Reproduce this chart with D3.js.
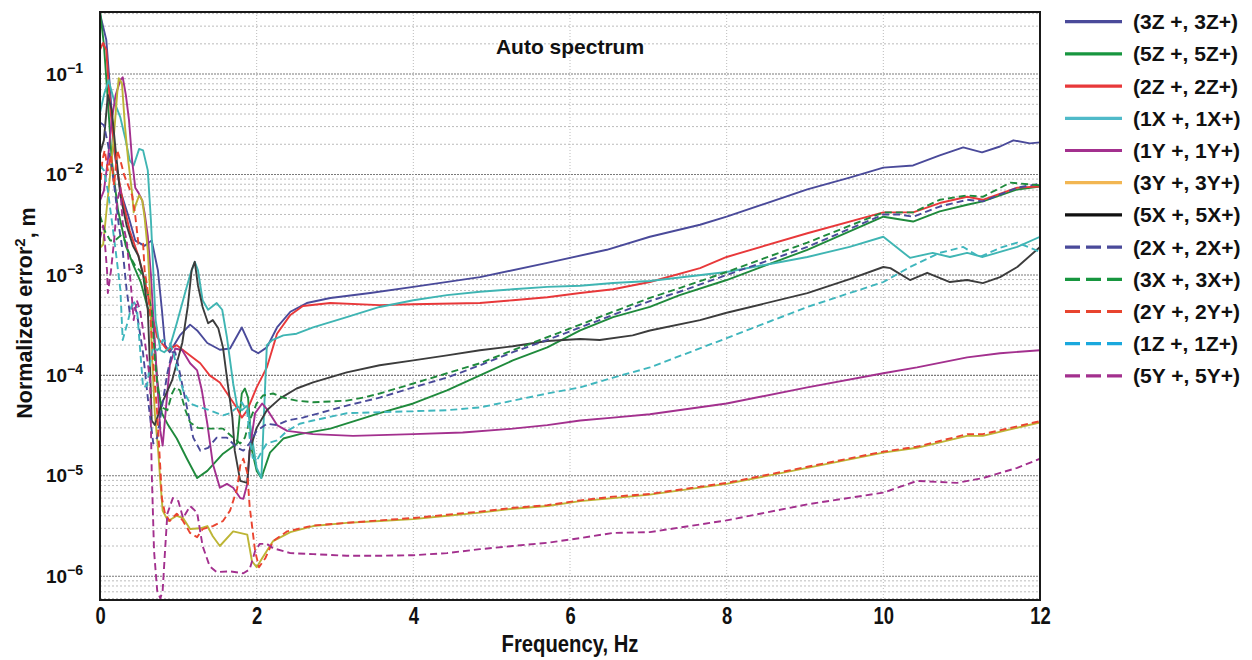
<!DOCTYPE html>
<html><head><meta charset="utf-8">
<script src="https://cdn.jsdelivr.net/npm/d3@7"></script>
<style>body{margin:0;background:#fff}svg{display:block}</style>
</head><body>
<svg id="chart" width="1252" height="660"></svg>
<script>
// ---------- data (frequency in Hz, normalized error^2 in m) ----------
const seriesNames = ["(3Z +, 3Z+)","(5Z +, 5Z+)","(2Z +, 2Z+)","(1X +, 1X+)","(1Y +, 1Y+)","(3Y +, 3Y+)",
  "(5X +, 5X+)","(2X +, 2X+)","(3X +, 3X+)","(2Y +, 2Y+)","(1Z +, 1Z+)","(5Y +, 5Y+)"];

const f3Z = [0,0.08,0.13,0.18,0.26,0.36,0.45,0.57,0.66,0.74,0.79,0.83,0.89,1.02,1.15,1.24,1.37,1.53,1.66,1.81,1.94,2.02,2.13,2.26,2.43,2.64,2.94,3.45,4.0,4.85,5.71,6.47,7.02,7.66,8.0,9.03,9.57,10.0,10.38,10.72,11.02,11.26,11.49,11.66,11.87,12.0];
const v3Z = [0.4,0.22,0.069,0.0174,6.9e-3,3.9e-3,2.2e-3,1.95e-3,2.2e-3,1.1e-3,4.5e-4,2.0e-4,1.7e-4,2.5e-4,3.2e-4,2.8e-4,2.1e-4,1.8e-4,1.85e-4,3.0e-4,1.8e-4,1.66e-4,1.9e-4,3.0e-4,4.3e-4,5.25e-4,5.9e-4,6.6e-4,7.6e-4,9.5e-4,1.32e-3,1.78e-3,2.4e-3,3.16e-3,3.8e-3,7.1e-3,9.3e-3,1.17e-2,1.23e-2,1.55e-2,1.86e-2,1.66e-2,1.9e-2,2.19e-2,2.04e-2,2.09e-2];

const f5Z = [0,0.05,0.10,0.15,0.23,0.33,0.43,0.52,0.60,0.68,0.73,0.79,0.87,0.98,1.11,1.24,1.37,1.57,1.75,1.81,1.85,1.89,1.94,2.00,2.06,2.17,2.34,2.55,2.94,3.57,4.0,4.43,4.85,5.27,5.71,6.13,6.55,7.02,7.40,8.0,9.03,10.0,10.38,10.72,11.07,11.27,11.71,12.0];
const v5Z = [0.43,0.195,0.055,0.0138,4.4e-3,1.95e-3,1.23e-3,8.5e-4,5.0e-4,3.2e-4,8.9e-5,4.2e-5,3.2e-5,2.35e-5,1.48e-5,9.5e-6,1.12e-5,1.66e-5,2.1e-5,6.6e-5,7.4e-5,6.0e-5,1.78e-5,1.12e-5,9.5e-6,1.7e-5,2.35e-5,2.6e-5,2.95e-5,4.2e-5,5.25e-5,7.1e-5,1.0e-4,1.41e-4,1.9e-4,2.8e-4,3.8e-4,4.8e-4,6.3e-4,8.9e-4,1.78e-3,3.8e-3,3.4e-3,4.3e-3,5.0e-3,5.4e-3,7.1e-3,7.6e-3];

const f2Z = [0,0.04,0.08,0.11,0.15,0.22,0.29,0.38,0.49,0.57,0.66,0.73,0.86,0.98,1.15,1.28,1.40,1.53,1.66,1.75,1.81,1.88,2.00,2.13,2.26,2.43,2.59,2.94,3.57,4.0,4.85,5.27,5.71,6.13,6.55,7.02,7.66,8.0,9.03,10.0,10.38,10.72,11.07,11.27,11.71,12.0];
const v2Z = [0.174,0.204,0.174,0.078,0.031,0.011,5.5e-3,2.75e-3,1.55e-3,8.9e-4,4.2e-4,2.4e-4,1.78e-4,2.0e-4,1.58e-4,1.32e-4,1.0e-4,8.5e-5,6.0e-5,4.7e-5,3.8e-5,4.5e-5,7.6e-5,1.2e-4,2.6e-4,4.0e-4,4.9e-4,5.25e-4,5.0e-4,5.1e-4,5.25e-4,5.6e-4,6.0e-4,6.6e-4,7.2e-4,8.5e-4,1.17e-3,1.51e-3,2.6e-3,4.2e-3,4.2e-3,5.2e-3,6.0e-3,5.6e-3,7.4e-3,7.6e-3];

const f1X = [0,0.05,0.11,0.19,0.26,0.32,0.38,0.43,0.50,0.55,0.61,0.65,0.68,0.71,0.77,0.82,0.89,0.98,1.09,1.15,1.21,1.25,1.31,1.38,1.49,1.56,1.62,1.70,1.75,1.81,1.88,1.94,2.00,2.06,2.09,2.13,2.20,2.34,2.51,2.72,3.15,3.57,4.0,4.43,4.85,5.27,5.71,6.13,6.55,7.02,8.0,9.03,9.57,10.0,10.34,10.63,10.85,11.07,11.27,11.49,11.71,12.0];
const v1X = [0.041,0.062,0.087,0.051,0.037,0.0234,0.0138,0.0123,0.018,0.0174,0.011,3.5e-3,1.1e-3,3.55e-4,1.78e-4,1.7e-4,1.9e-4,3.3e-4,6.8e-4,1.0e-3,1.35e-3,1.12e-3,5.6e-4,4.5e-4,5.25e-4,4.5e-4,2.4e-4,8.3e-5,5.0e-5,4.5e-5,5.0e-5,2.4e-5,1.2e-5,9.5e-6,3.55e-5,2.0e-4,2.25e-4,2.5e-4,2.6e-4,3.0e-4,3.8e-4,4.8e-4,5.6e-4,6.3e-4,6.8e-4,7.2e-4,7.6e-4,7.8e-4,8.3e-4,8.7e-4,1.07e-3,1.51e-3,1.9e-3,2.4e-3,1.48e-3,1.66e-3,1.51e-3,1.66e-3,1.51e-3,1.7e-3,1.9e-3,2.4e-3];

const f1Y = [0,0.05,0.10,0.15,0.20,0.26,0.29,0.33,0.37,0.41,0.45,0.49,0.54,0.57,0.61,0.65,0.69,0.73,0.77,0.80,0.84,0.89,0.96,1.05,1.15,1.24,1.30,1.37,1.44,1.53,1.62,1.70,1.79,1.83,1.88,1.91,1.98,2.07,2.14,2.26,2.39,2.72,3.23,4.0,4.63,5.27,5.71,6.13,6.55,7.02,8.0,9.03,10.0,10.43,11.07,11.49,12.0];
const v1Y = [5.5e-3,6.9e-3,0.0138,0.035,0.062,0.087,0.093,0.062,0.035,0.0138,7.4e-3,6.6e-3,5.5e-3,4.1e-3,2.45e-3,1.0e-3,2.8e-4,8.9e-5,2.8e-5,2.0e-5,4.5e-5,1.26e-4,1.85e-4,1.78e-4,1.32e-4,1.12e-4,7.1e-5,3.3e-5,1.32e-5,7.6e-6,8.3e-6,7.6e-6,6.0e-6,5.9e-6,8.3e-6,1.78e-5,4.2e-5,5.25e-5,4.5e-5,3.2e-5,2.8e-5,2.6e-5,2.5e-5,2.6e-5,2.7e-5,2.95e-5,3.2e-5,3.55e-5,3.8e-5,4.1e-5,5.25e-5,7.6e-5,1.05e-4,1.2e-4,1.51e-4,1.66e-4,1.78e-4];

const f3Y = [0,0.04,0.10,0.17,0.22,0.24,0.28,0.32,0.36,0.41,0.43,0.46,0.50,0.54,0.57,0.61,0.64,0.66,0.70,0.74,0.77,0.80,0.87,0.98,1.06,1.15,1.28,1.37,1.44,1.53,1.70,1.88,1.94,2.00,2.07,2.21,2.43,2.72,3.15,3.57,4.0,4.43,4.85,5.27,5.71,6.13,6.55,7.02,8.0,9.03,10.0,10.43,11.07,11.27,12.0];
const v3Y = [1.86e-3,2.0e-3,5.9e-3,0.0204,0.065,0.091,0.081,0.0295,0.0138,6.5e-3,4.2e-3,5.1e-3,6.2e-3,5.5e-3,3.7e-3,1.74e-3,6.6e-4,1.78e-4,4.2e-5,1.9e-5,8.9e-6,4.5e-6,3.55e-6,4.0e-6,3.8e-6,2.95e-6,3.0e-6,3.16e-6,2.5e-6,2.0e-6,2.8e-6,2.6e-6,1.41e-6,1.23e-6,1.51e-6,2.24e-6,2.75e-6,3.16e-6,3.4e-6,3.55e-6,3.7e-6,4.0e-6,4.3e-6,4.7e-6,5.0e-6,5.6e-6,6.0e-6,6.5e-6,8.3e-6,1.2e-5,1.7e-5,1.9e-5,2.5e-5,2.5e-5,3.4e-5];

const f5X = [0,0.05,0.10,0.15,0.20,0.26,0.34,0.42,0.49,0.55,0.61,0.64,0.66,0.70,0.79,0.92,1.05,1.12,1.17,1.21,1.25,1.31,1.38,1.44,1.51,1.57,1.63,1.69,1.72,1.79,1.88,1.91,2.00,2.13,2.30,2.51,2.72,3.15,3.57,4.0,4.43,4.85,5.27,5.71,6.13,6.38,6.80,7.02,7.66,8.0,9.03,9.57,10.0,10.09,10.34,10.56,10.85,11.07,11.27,11.49,11.71,12.0];
const v5X = [0.0162,0.022,0.062,0.044,0.0174,6.2e-3,3.1e-3,1.95e-3,1.55e-3,1.0e-3,4.5e-4,1.12e-4,3.55e-5,3.2e-5,5.25e-5,8.9e-5,2.1e-4,4.8e-4,1.12e-3,1.35e-3,7.9e-4,4.8e-4,3.3e-4,3.55e-4,2.95e-4,1.9e-4,8.3e-5,3.8e-5,1.78e-5,8.9e-6,8.5e-6,1.78e-5,3.0e-5,4.5e-5,5.9e-5,7.4e-5,8.5e-5,1.07e-4,1.26e-4,1.41e-4,1.58e-4,1.78e-4,1.95e-4,2.2e-4,2.3e-4,2.25e-4,2.5e-4,2.8e-4,3.55e-4,4.2e-4,6.6e-4,9.1e-4,1.2e-3,1.17e-3,8.9e-4,1.05e-3,8.5e-4,8.9e-4,8.3e-4,9.5e-4,1.2e-3,1.9e-3];

const f2X = [0,0.05,0.10,0.15,0.19,0.24,0.29,0.34,0.38,0.42,0.47,0.55,0.61,0.68,0.73,0.79,0.86,0.92,0.96,1.02,1.11,1.19,1.28,1.38,1.49,1.62,1.75,1.83,1.91,2.00,2.13,2.26,2.39,2.59,2.94,3.15,3.57,4.0,4.43,4.85,5.27,5.71,6.13,6.55,7.02,7.40,8.0,9.03,10.0,10.21,10.38,10.72,11.07,11.27,11.71,12.0];
const v2X = [0.033,0.031,0.0204,0.0118,6.9e-3,3.1e-3,1.74e-3,7.1e-4,4.2e-4,5.25e-4,4.2e-4,1.66e-4,6.0e-5,2.1e-5,2.4e-5,4.8e-5,1.05e-4,1.7e-4,1.7e-4,1.05e-4,4.8e-5,2.4e-5,1.78e-5,1.9e-5,2.4e-5,2.4e-5,1.9e-5,1.78e-5,2.1e-5,2.8e-5,3.3e-5,3.2e-5,3.55e-5,3.8e-5,4.5e-5,5.0e-5,6.0e-5,7.6e-5,9.5e-5,1.26e-4,1.7e-4,2.25e-4,3.0e-4,4.0e-4,5.5e-4,6.8e-4,1.0e-3,1.9e-3,4.0e-3,4.0e-3,3.8e-3,4.8e-3,5.6e-3,5.4e-3,7.4e-3,8.1e-3];

const f3X = [0,0.06,0.13,0.19,0.26,0.32,0.38,0.45,0.51,0.57,0.66,0.70,0.74,0.79,0.86,0.92,0.96,1.02,1.09,1.15,1.25,1.40,1.57,1.70,1.79,1.85,1.91,2.00,2.08,2.21,2.34,2.51,2.72,3.15,3.36,3.57,4.0,4.43,4.85,5.27,5.71,6.13,6.55,7.02,7.40,8.0,9.03,10.0,10.38,10.72,11.07,11.27,11.62,12.0];
const v3X = [3.9e-3,2.75e-3,2.2e-3,2.2e-3,2.45e-3,2.2e-3,1.55e-3,1.23e-3,1.1e-3,8.9e-4,4.5e-4,1.51e-4,7.1e-5,4.8e-5,4.5e-5,6.6e-5,7.6e-5,7.1e-5,4.5e-5,3.4e-5,3.0e-5,2.95e-5,2.95e-5,2.4e-5,2.1e-5,2.4e-5,3.55e-5,5.25e-5,6.3e-5,6.6e-5,6.0e-5,5.6e-5,5.4e-5,5.6e-5,6.0e-5,6.6e-5,8.3e-5,1.05e-4,1.32e-4,1.78e-4,2.4e-4,3.2e-4,4.3e-4,5.9e-4,7.4e-4,1.07e-3,2.1e-3,4.2e-3,4.2e-3,5.6e-3,6.2e-3,6.0e-3,8.3e-3,7.8e-3];

const f2Y = [0,0.03,0.06,0.10,0.14,0.18,0.22,0.26,0.31,0.36,0.41,0.45,0.49,0.55,0.57,0.60,0.64,0.68,0.73,0.77,0.79,0.83,0.89,0.98,1.06,1.15,1.24,1.31,1.44,1.57,1.66,1.75,1.79,1.83,1.88,1.91,1.98,2.03,2.11,2.21,2.39,2.72,3.15,3.57,4.0,4.43,4.85,5.27,5.71,6.13,6.55,7.02,8.0,9.03,10.0,10.43,11.07,11.27,12.0];
const v2Y = [6.9e-3,0.0138,0.0174,0.011,0.0155,7.8e-3,0.0174,0.0138,9.8e-3,7.8e-3,6.2e-3,3.9e-3,2.05e-3,2.05e-3,1.1e-3,7.9e-4,4.2e-4,1.32e-4,4.2e-5,1.2e-5,6.0e-6,4.2e-6,3.55e-6,4.2e-6,3.55e-6,2.7e-6,2.45e-6,2.95e-6,3.16e-6,3.55e-6,4.5e-6,7.4e-6,1.26e-5,1.48e-5,1.07e-5,5.0e-6,1.78e-6,1.23e-6,1.51e-6,2.24e-6,2.8e-6,3.2e-6,3.4e-6,3.6e-6,3.8e-6,4.1e-6,4.4e-6,4.8e-6,5.1e-6,5.7e-6,6.2e-6,6.6e-6,8.5e-6,1.23e-5,1.74e-5,1.95e-5,2.6e-5,2.6e-5,3.5e-5];

const f1Z = [0,0.05,0.10,0.15,0.20,0.26,0.29,0.36,0.42,0.47,0.51,0.55,0.60,0.64,0.68,0.73,0.77,0.80,0.89,0.93,0.98,1.06,1.15,1.28,1.40,1.57,1.66,1.75,1.81,1.88,1.91,1.95,2.00,2.07,2.13,2.26,2.39,2.55,2.72,3.15,3.57,4.0,4.43,4.85,5.27,5.71,6.13,6.55,7.02,8.0,9.03,10.0,10.34,10.72,11.02,11.23,11.49,11.71,12.0];
const v1Z = [0.0123,0.011,6.9e-3,3.5e-3,1.74e-3,7.1e-4,2.25e-4,3.55e-4,5.6e-4,4.8e-4,1.9e-4,7.6e-5,7.9e-5,1.32e-4,1.9e-4,1.78e-4,1.9e-4,2.25e-4,2.1e-4,1.78e-4,1.2e-4,7.1e-5,5.25e-5,4.8e-5,4.5e-5,4.0e-5,4.2e-5,4.8e-5,5.4e-5,4.3e-5,2.4e-5,1.51e-5,1.41e-5,1.78e-5,2.1e-5,2.25e-5,2.8e-5,3.3e-5,3.55e-5,4.2e-5,4.3e-5,4.4e-5,4.5e-5,4.8e-5,5.6e-5,6.6e-5,7.6e-5,9.5e-5,1.2e-4,2.35e-4,4.8e-4,8.5e-4,1.2e-3,1.66e-3,1.9e-3,1.51e-3,1.86e-3,2.1e-3,1.7e-3];

const f5Y = [0,0.04,0.06,0.09,0.10,0.14,0.18,0.22,0.26,0.29,0.34,0.38,0.41,0.43,0.47,0.51,0.57,0.64,0.66,0.69,0.73,0.77,0.80,0.83,0.86,0.93,1.00,1.06,1.15,1.24,1.31,1.40,1.49,1.66,1.83,1.91,1.98,2.04,2.13,2.21,2.43,2.72,3.15,3.57,4.0,4.43,4.85,5.27,5.71,6.13,6.55,7.02,8.0,9.03,10.0,10.43,10.94,11.27,11.71,12.0];
const v5Y = [2.3e-3,3.1e-3,2.2e-3,1.1e-3,6.6e-4,1.1e-3,2.2e-3,5.5e-3,7.4e-3,3.3e-3,2.2e-3,1.05e-3,5.6e-4,3.55e-4,5.6e-4,4.5e-4,2.25e-4,8.9e-5,1.12e-5,1.78e-6,7.2e-7,6.0e-7,7.2e-7,1.78e-6,4.2e-6,6.0e-6,5.6e-6,3.8e-6,5.0e-6,4.3e-6,2.0e-6,1.26e-6,1.1e-6,1.12e-6,1.07e-6,1.17e-6,1.78e-6,2.1e-6,2.1e-6,1.9e-6,1.7e-6,1.66e-6,1.6e-6,1.6e-6,1.62e-6,1.7e-6,1.86e-6,2.0e-6,2.15e-6,2.4e-6,2.7e-6,2.75e-6,3.6e-6,5.2e-6,6.8e-6,8.9e-6,8.5e-6,9.5e-6,1.2e-5,1.48e-5];

const xTicks = [0,2,4,6,8,10,12];
const yTickExps = [-1,-2,-3,-4,-5,-6];

// ---------- styles ----------
const freqs = [f3Z,f5Z,f2Z,f1X,f1Y,f3Y,f5X,f2X,f3X,f2Y,f1Z,f5Y];
const vals  = [v3Z,v5Z,v2Z,v1X,v1Y,v3Y,v5X,v2X,v3X,v2Y,v1Z,v5Y];
const lineColors   = ["#4a4a9a","#1f8a3c","#e8383a","#3fb5b3","#a3308e","#bdb535","#3c3c3c","#4a4a9a","#1f8a3c","#ea4430","#3fb6bd","#a3308e"];
const legendColors = ["#4a4a9a","#17963f","#e8383a","#4fbac9","#a3308e","#f2b652","#111111","#4a4a9a","#17963f","#e8442e","#1aa8dd","#a3308e"];
const isDashed = [false,false,false,false,false,false,false,true,true,true,true,true];
const FONT = "'Liberation Sans',Arial,Helvetica,sans-serif";

const svg = d3.select("#chart");
const L=100, R=1040, T=12, B=600;
const x = d3.scaleLinear().domain([0,12]).range([L,R]);
const y = d3.scaleLog().domain([5.8e-7,0.415]).range([B,T]);
const isDecade = d => Math.abs(Math.log10(d)-Math.round(Math.log10(d)))<1e-6;

// grid
const gGrid = svg.append("g");
const allY = y.ticks(60).filter(v => v > 5.8e-7 && v < 0.415);
gGrid.selectAll("line.h").data(allY).join("line")
  .attr("x1",L).attr("x2",R)
  .attr("y1",d=>y(d)).attr("y2",d=>y(d))
  .attr("stroke", d => isDecade(d) ? "#7a7a7a" : "#b4b4b4")
  .attr("stroke-width", d => isDecade(d) ? 1.1 : 0.9)
  .attr("stroke-dasharray", d => isDecade(d) ? "2,1" : "2,2");
gGrid.selectAll("line.v").data(xTicks.slice(1,-1)).join("line")
  .attr("x1",d=>x(d)).attr("x2",d=>x(d)).attr("y1",T).attr("y2",B)
  .attr("stroke","#b4b4b4").attr("stroke-width",0.9).attr("stroke-dasharray","1,2");

// clip
svg.append("clipPath").attr("id","clip").append("rect")
  .attr("x",L).attr("y",T).attr("width",R-L).attr("height",B-T);

const line = d3.line().x(d=>x(d[0])).y(d=>y(d[1]));
const gLines = svg.append("g").attr("clip-path","url(#clip)");
seriesNames.forEach((name,i) => {
  const n = Math.min(freqs[i].length, vals[i].length);
  const pts = d3.range(n).map(k => [freqs[i][k], vals[i][k]]);
  gLines.append("path").datum(pts)
    .attr("d", line).attr("fill","none")
    .attr("stroke", lineColors[i])
    .attr("stroke-width", 1.9)
    .attr("stroke-linejoin","round")
    .attr("stroke-dasharray", isDashed[i] ? "7,4" : null);
});

// frame
svg.append("rect").attr("x",L).attr("y",T).attr("width",R-L).attr("height",B-T)
  .attr("fill","none").attr("stroke","#1a1a1a").attr("stroke-width",2);

// x axis (condensed bold digits)
const gx = svg.append("g").attr("transform",`translate(0,${B})`)
  .call(d3.axisBottom(x).tickValues(xTicks).tickSize(0).tickPadding(8).tickFormat(d3.format("d")));
gx.select(".domain").remove();
gx.selectAll("text").attr("font-family",FONT)
  .attr("font-weight","bold").attr("font-size",23).attr("fill","#111")
  .attr("transform","scale(0.8,1)");

// y axis
const gy = svg.append("g").attr("transform",`translate(${L},0)`)
  .call(d3.axisLeft(y).tickValues(yTickExps.map(e=>Math.pow(10,e))).tickSize(0).tickPadding(17).tickFormat(()=>""));
gy.select(".domain").remove();
gy.selectAll(".tick text").each(function(d){
  const t = d3.select(this);
  t.text(null).attr("font-family",FONT).attr("font-weight","bold")
   .attr("font-size",19).attr("fill","#111");
  t.append("tspan").text("10");
  t.append("tspan").attr("dy","-0.55em").attr("font-size",14).text("\u2212" + Math.round(-Math.log10(d)));
});

// axis titles
svg.append("text").attr("transform",`translate(${(L+R)/2},652) scale(0.88,1)`).attr("text-anchor","middle")
  .attr("font-family",FONT).attr("font-weight","bold").attr("font-size",23).attr("fill","#111").text("Frequency, Hz");
const yt = svg.append("text").attr("transform","translate(32,313) rotate(-90)").attr("text-anchor","middle")
  .attr("font-family",FONT).attr("font-weight","bold").attr("font-size",21.5).attr("fill","#111");
yt.append("tspan").text("Normalized error");
yt.append("tspan").attr("dy","-0.5em").attr("font-size",15).text("2");
yt.append("tspan").attr("dy","0.5em").text(", m");

// title
svg.append("text").attr("x",570).attr("y",54).attr("text-anchor","middle")
  .attr("font-family",FONT).attr("font-weight","bold").attr("font-size",21)
  .attr("fill","#111").text("Auto spectrum");

// legend
const gLeg = svg.append("g");
seriesNames.forEach((name,i) => {
  const yy = 21.7 + i*32.2;
  gLeg.append("line").attr("x1",1065).attr("x2",1122).attr("y1",yy).attr("y2",yy)
    .attr("stroke",legendColors[i]).attr("stroke-width",3.2)
    .attr("stroke-dasharray", isDashed[i] ? "15,6" : null);
  gLeg.append("text").attr("x",1133).attr("y",yy).attr("dy","0.36em")
    .attr("font-family",FONT).attr("font-weight","bold").attr("font-size",21)
    .attr("fill","#111").text(name);
});
</script>
</body></html>
